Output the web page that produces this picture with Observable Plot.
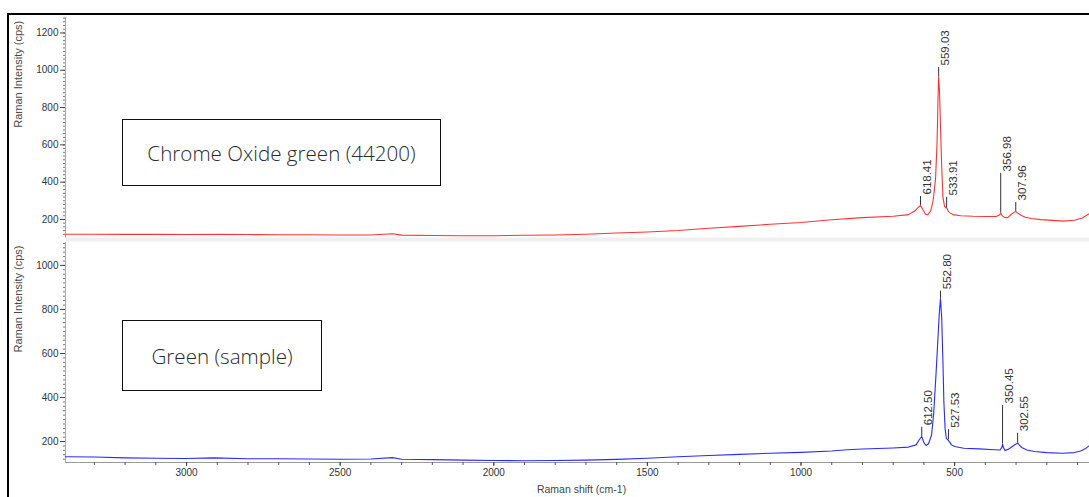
<!DOCTYPE html>
<html><head><meta charset="utf-8">
<script src="https://cdn.jsdelivr.net/npm/d3@7"></script>
<script src="https://cdn.jsdelivr.net/npm/@observablehq/plot@0.6"></script>
<style>
html,body{margin:0;padding:0;background:#fff;}
#wrap{position:relative;width:1089px;height:497px;overflow:hidden;background:#fff;}
#wrap svg{position:absolute;left:0;top:0;}
.frame{position:absolute;left:7px;top:13px;width:1100px;height:500px;border-left:2px solid #000;border-top:2px solid #000;}
.box{position:absolute;border:1px solid #111;display:flex;align-items:center;justify-content:center;font-family:"Open Sans",sans-serif;font-weight:300;font-size:20.6px;color:#2a2a2a;box-sizing:border-box;white-space:nowrap;}
</style></head><body><div id="wrap"><div class="frame"></div></div>
<script>
// ---- Data (Raman shift in cm-1, intensity in cps) ----
const redShift = [3394,3300,3200,3100,3000,2900,2800,2700,2600,2500,2400,2330,2300,2200,2100,2000,1900,1800,1700,1600,1500,1400,1300,1200,1100,1000,900,800,700,650,630,620,611,603,595,588,578,570,562,557,554,552,549,546,542,538,533,528,526,521,514,505,480,440,400,365,354,350,346,338,327,315,307,301,296,285,270,250,220,180,145,110,85,61];
const redIntensity = [121,121,120,120,119,120,119,118,118,117,117,123,116,114,113,113,115,117,121,127,133,141,153,163,174,184,198,210,217,226,245,262,275,252,228,225,245,300,420,620,850,965,880,700,480,320,272,262,264,245,234,226,220,217,216,216,224,235,222,211,210,228,238,243,236,224,212,205,199,195,191,196,208,232];

const blueShift = [3394,3300,3200,3100,3000,2912,2800,2700,2600,2500,2400,2330,2300,2200,2100,2000,1900,1800,1700,1600,1500,1400,1300,1200,1100,1000,900,850,800,700,650,625,617,607,600,593,585,575,568,560,555,550,546,542,538,535,531,527,522,517,510,500,470,420,370,352,346,344,341,336,325,310,299,295,290,280,265,240,200,150,110,90,75,61];
const blueIntensity = [131,130,126,124,123,126,122,122,121,120,121,127,120,118,116,114,113,114,116,119,124,131,137,142,147,151,157,163,166,171,175,185,205,223,195,182,190,230,330,520,650,780,850,760,560,380,260,215,208,200,185,178,170,167,163,162,175,189,172,160,165,180,190,194,185,172,162,155,150,147,150,157,167,182];

const topPeakShift = [611,552,526,350,301];
const topPeakBase  = [275,965,264,235,243];
const topPeakTop   = [323,1015,318,447,291];
const topPeakLabel = ["618.41","559.03","533.91","356.98","307.96"];

const botPeakShift = [607,546,520,344,295];
const botPeakBase  = [223,850,208,189,194];
const botPeakTop   = [265,883,254,364,238];
const botPeakLabel = ["612.50","552.80","527.53","350.45","302.55"];

const xMajorTicks = [500,1000,1500,2000,2500,3000];
const topYTicks = [200,400,600,800,1000,1200];
const botYTicks = [200,400,600,800,1000];
const yTitle = "Raman Intensity (cps)";
const xTitle = "Raman shift (cm-1)";
const topBoxText = "Chrome Oxide green (44200)";
const botBoxText = "Green (sample)";

const xDomain = [3394, 61];

function panel(o){
  const data = o.shift.map((s,i)=>({s, v:o.intensity[i]}));
  const peaks = o.peakShift.map((s,i)=>({s, y1:o.peakBase[i], y2:o.peakTop[i], label:o.peakLabel[i]}));
  const minor = d3.range(o.minorStart, o.yDomain[1], 20);
  const marks = [
    Plot.ruleY([o.yDomain[0]], {stroke:o.baseStroke, strokeWidth:o.baseWidth, dy:o.baseDy}),
    Plot.axisY({ticks:minor, tickSize:2, tickFormat:()=>"", label:null, stroke:"#777"}),
    Plot.axisY({ticks:o.yTicks, tickSize:5, tickPadding:2, tickFormat:d=>String(d), label:null, fill:"#333", stroke:"#444", fontSize:10}),
    Plot.ruleX([xDomain[0]], {stroke:"#aaa"}),
    Plot.line(data, {x:"s", y:"v", stroke:o.color, strokeWidth:1.1}),
    Plot.ruleX(peaks, {x:"s", y1:"y1", y2:"y2", stroke:"#333"}),
    Plot.text(peaks, {x:"s", y:"y2", text:"label", rotate:-90, textAnchor:"start", dx:7, dy:-2, fill:"#333", fontSize:11.5}),
    Plot.text([yTitle], {frameAnchor:"left", rotate:-90, dx:-47, fill:"#4a4a4a", fontSize:11})
  ];
  if (o.showX) {
    marks.push(
      Plot.axisX({ticks:d3.range(100, 3400, 100), tickSize:3, tickFormat:()=>"", label:null, stroke:"#555"}),
      Plot.axisX({ticks:xMajorTicks, tickSize:4, tickPadding:2, tickFormat:d=>String(d), label:null, fill:"#333", stroke:"#444", fontSize:10}),
      Plot.text([xTitle], {frameAnchor:"bottom", dx:4, dy:30, fill:"#444", fontSize:10.5})
    );
  }
  return Plot.plot({
    width:1089, height:497,
    marginLeft:65, marginRight:0, marginTop:o.marginTop, marginBottom:o.marginBottom,
    x:{domain:xDomain, axis: o.showX ? undefined : null},
    y:{domain:o.yDomain},
    style:{background:"transparent", fontFamily:"'Liberation Sans', Arial, sans-serif", fontSize:"10px"},
    marks
  });
}

const wrap = document.getElementById("wrap");
wrap.appendChild(panel({shift:redShift, intensity:redIntensity, color:"#ff3333", yDomain:[100,1283], yTicks:topYTicks, minorStart:120,
  peakShift:topPeakShift, peakBase:topPeakBase, peakTop:topPeakTop, peakLabel:topPeakLabel,
  marginTop:17, marginBottom:259.4, baseStroke:"#efefef", baseWidth:4, baseDy:1.5, showX:false}));
wrap.appendChild(panel({shift:blueShift, intensity:blueIntensity, color:"#2a2aff", yDomain:[105,1104], yTicks:botYTicks, minorStart:120,
  peakShift:botPeakShift, peakBase:botPeakBase, peakTop:botPeakTop, peakLabel:botPeakLabel,
  marginTop:242, marginBottom:35, baseStroke:"#999", baseWidth:1, baseDy:0, showX:true}));

function box(text, l, t, w, h){
  const d = document.createElement("div");
  d.className = "box";
  d.style.left = l+"px"; d.style.top = t+"px"; d.style.width = w+"px"; d.style.height = h+"px";
  d.textContent = text;
  wrap.appendChild(d);
}
box(topBoxText, 122, 119, 319, 67);
box(botBoxText, 122, 320, 200, 71);
</script></body></html>
